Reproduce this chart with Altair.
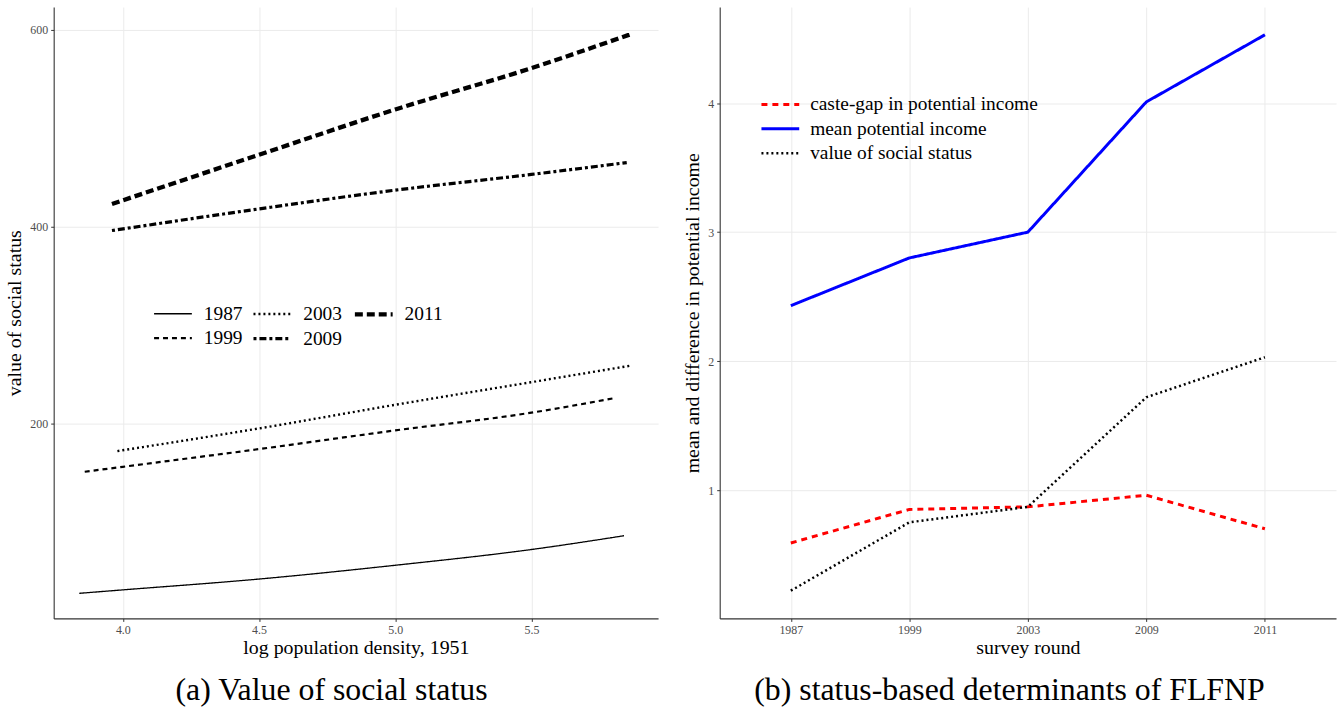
import altair as alt
import pandas as pd

# ---------------- Panel (a) data ----------------
years = ["1987", "1999", "2003", "2009", "2011"]
dens_1987 = [3.84, 4.0, 4.5, 5.0, 5.5, 5.84]
stat_1987 = [27.5, 31, 42, 56, 72, 86]
dens_1999 = [3.86, 4.0, 4.5, 5.0, 5.5, 5.81]
stat_1999 = [151, 156, 174, 193, 211, 226]
dens_2003 = [3.98, 4.5, 5.0, 5.5, 5.87]
stat_2003 = [172, 195, 219, 242, 259]
dens_2009 = [3.96, 4.5, 5.0, 5.5, 5.85]
stat_2009 = [396, 418, 437, 453, 465]
dens_2011 = [3.96, 4.5, 5.0, 5.5, 5.86]
stat_2011 = [423, 473, 519, 561, 595]

# ---------------- Panel (b) data ----------------
rounds = ["1987", "1999", "2003", "2009", "2011"]
caste_gap = [0.59, 0.85, 0.87, 0.96, 0.70]
mean_income = [2.43, 2.80, 3.00, 4.01, 4.53]
status_value = [0.22, 0.75, 0.87, 1.72, 2.03]
series_names = ["caste-gap in potential income", "mean potential income", "value of social status"]

FONT = "Liberation Serif"

rows = []
for yr, xs, ys in [("1987", dens_1987, stat_1987), ("1999", dens_1999, stat_1999),
                   ("2003", dens_2003, stat_2003), ("2009", dens_2009, stat_2009),
                   ("2011", dens_2011, stat_2011)]:
    for x, y in zip(xs, ys):
        rows.append({"year": yr, "density": x, "status": y})
df_left = pd.DataFrame(rows)

rows = []
for name, vals in zip(series_names, [caste_gap, mean_income, status_value]):
    for r, v in zip(rounds, vals):
        rows.append({"series": name, "round": r, "value": v})
df_right = pd.DataFrame(rows)

dash_map = {"1987": [1, 0], "1999": [5, 4], "2003": [2, 3], "2009": [3, 3, 7, 3], "2011": [8, 4]}
width_map = {"1987": 1.3, "1999": 2.2, "2003": 2.4, "2009": 3.2, "2011": 4.3}

# wide horizontal stroke symbol: path spans 4 units, size 361 -> ~38 px long
LEG_SYMBOL = "M-2,0H2"
LEG_SIZE = 361

left_legend = alt.Legend(
    orient="none", legendX=108, legendY=297, columns=3, title=None,
    labelFont=FONT, labelFontSize=19.5, labelColor="black", symbolSize=LEG_SIZE,
    symbolStrokeColor="black", labelOffset=19, columnPadding=4, rowPadding=3,
    symbolType=LEG_SYMBOL, labelLimit=0,
)

left = alt.Chart(df_left).mark_line(color="black", strokeCap="butt", interpolate="monotone").encode(
    x=alt.X("density:Q",
            scale=alt.Scale(domain=[3.746, 5.965], nice=False, zero=False),
            axis=alt.Axis(values=[4.0, 4.5, 5.0, 5.5], format=".1f",
                          title="log population density, 1951")),
    y=alt.Y("status:Q",
            scale=alt.Scale(domain=[2, 623], nice=False, zero=False),
            axis=alt.Axis(values=[200, 400, 600], title="value of social status")),
    strokeDash=alt.StrokeDash("year:N",
                              scale=alt.Scale(type="ordinal", domain=years, range=[dash_map[k] for k in years]),
                              legend=left_legend),
    strokeWidth=alt.StrokeWidth("year:N",
                                scale=alt.Scale(type="ordinal", domain=years, range=[width_map[k] for k in years]),
                                legend=left_legend),
    detail="year:N",
).properties(
    width=608, height=615,
    title=alt.TitleParams("(a) Value of social status", orient="bottom", anchor="middle",
                          frame="bounds", font=FONT, fontSize=32, fontWeight="normal",
                          color="black", offset=18),
)

right_legend = alt.Legend(
    orient="none", legendX=50, legendY=87, title=None,
    labelFont=FONT, labelFontSize=19.5, labelColor="black", symbolSize=LEG_SIZE,
    labelOffset=19, rowPadding=3.5, symbolType=LEG_SYMBOL, labelLimit=0,
)

right = alt.Chart(df_right).mark_line(strokeCap="butt").encode(
    x=alt.X("round:O", sort=rounds,
            scale=alt.Scale(type="point", padding=0.6),
            axis=alt.Axis(labelAngle=0, grid=True, title="survey round")),
    y=alt.Y("value:Q",
            scale=alt.Scale(domain=[0.005, 4.745], nice=False, zero=False),
            axis=alt.Axis(values=[1, 2, 3, 4], format="d",
                          title="mean and difference in potential income")),
    color=alt.Color("series:N",
                    scale=alt.Scale(domain=series_names, range=["#ff0000", "#0000ff", "#000000"]),
                    legend=right_legend),
    strokeDash=alt.StrokeDash("series:N",
                              scale=alt.Scale(type="ordinal", domain=series_names,
                                              range=[[6, 5], [1, 0], [2, 3]]),
                              legend=right_legend),
    strokeWidth=alt.StrokeWidth("series:N",
                                scale=alt.Scale(type="ordinal", domain=series_names, range=[3.0, 3.0, 2.5]),
                                legend=right_legend),
).properties(
    width=620, height=615,
    title=alt.TitleParams("(b) status-based determinants of FLFNP", orient="bottom", anchor="middle",
                          frame="bounds", font=FONT, fontSize=32, fontWeight="normal",
                          color="black", offset=18),
)

chart = alt.hconcat(left, right, spacing=25).resolve_scale(
    color="independent", strokeDash="independent", strokeWidth="independent",
).resolve_legend(
    color="independent", strokeDash="independent", strokeWidth="independent",
).properties(
    padding={"left": 5, "top": 5, "right": 4, "bottom": 0},
).configure_view(stroke=None).configure_axis(
    labelFont=FONT, labelFontSize=12, labelColor="#4d4d4d",
    titleFont=FONT, titleFontSize=20, titleColor="black", titleFontWeight="normal",
    domainColor="#333333", domainWidth=1.1, tickColor="#333333", tickSize=3,
    gridColor="#ebebeb", gridWidth=1, labelPadding=3, titlePadding=2,
).configure_axisY(titlePadding=5)

chart.save("out.html", embed_options={"renderer": "svg", "actions": False})
